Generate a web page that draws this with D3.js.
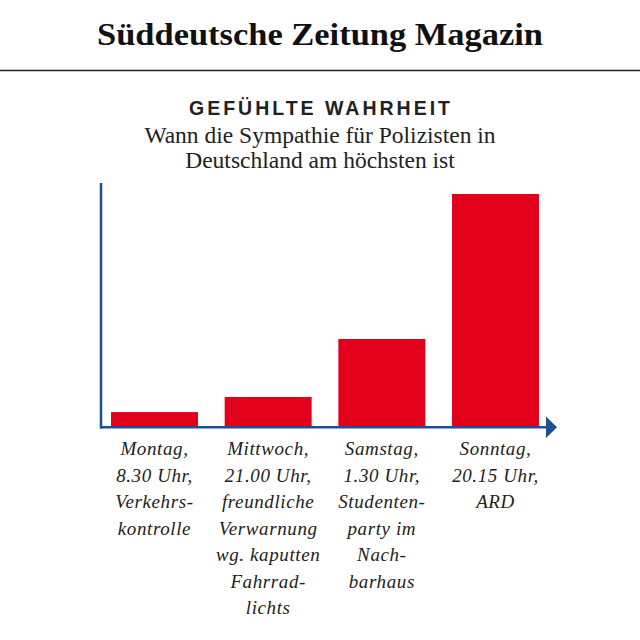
<!DOCTYPE html>
<html>
<head>
<meta charset="utf-8">
<script src="https://cdn.jsdelivr.net/npm/d3@7"></script>
<style>
  body { margin: 0; background: #fff; }
</style>
</head>
<body>
<div class="chart"></div>
<script>
// chart data
var categories = ["Montag", "Mittwoch", "Samstag", "Sonntag"];
var values = [6, 12.5, 37.5, 100];
var labels = [
  ["Montag,", "8.30 Uhr,", "Verkehrs-", "kontrolle"],
  ["Mittwoch,", "21.00 Uhr,", "freundliche", "Verwarnung", "wg. kaputten", "Fahrrad-", "lichts"],
  ["Samstag,", "1.30 Uhr,", "Studenten-", "party im", "Nach-", "barhaus"],
  ["Sonntag,", "20.15 Uhr,", "ARD"]
];

var width = 640;
var height = 640;
var red = "#e2001a";
var blue = "#1d4f91";

var svg = d3.select(".chart")
            .append("svg")
            .attr("width", width)
            .attr("height", height);

svg.append("rect")
   .attr("width", width)
   .attr("height", height)
   .attr("fill", "#fff");

// header
svg.append("text")
   .attr("x", 320)
   .attr("y", 45)
   .attr("text-anchor", "middle")
   .attr("textLength", 446)
   .attr("lengthAdjust", "spacingAndGlyphs")
   .style("font-family", "'Liberation Serif', serif")
   .style("font-weight", "bold")
   .style("font-size", "32px")
   .style("fill", "#111")
   .text("Süddeutsche Zeitung Magazin");

svg.append("line")
   .attr("x1", 0).attr("x2", width)
   .attr("y1", 70.5).attr("y2", 70.5)
   .attr("stroke", "#222")
   .attr("stroke-width", 1.5);

svg.append("text")
   .attr("x", 321)
   .attr("y", 115)
   .attr("text-anchor", "middle")
   .style("font-family", "'Liberation Sans', sans-serif")
   .style("font-weight", "bold")
   .style("font-size", "19.5px")
   .style("letter-spacing", "3px")
   .style("fill", "#222")
   .text("GEFÜHLTE WAHRHEIT");

var subtitle = ["Wann die Sympathie für Polizisten in", "Deutschland am höchsten ist"];
svg.selectAll(".subtitle")
   .data(subtitle)
   .enter()
   .append("text")
   .attr("class", "subtitle")
   .attr("x", 320)
   .attr("y", (d, i) => 143 + i * 25)
   .attr("text-anchor", "middle")
   .style("font-family", "'Liberation Serif', serif")
   .style("font-size", "23.5px")
   .style("fill", "#222")
   .text(d => d);

// scales
var xScale = d3.scaleBand()
               .domain(categories)
               .range([111, 539])
               .paddingInner(0.235)
               .paddingOuter(0);

var yScale = d3.scaleLinear()
               .domain([0, 100])
               .range([426, 194]);

// bars
svg.selectAll(".bar")
   .data(values)
   .enter()
   .append("rect")
   .attr("class", "bar")
   .attr("x", (d, i) => xScale(categories[i]))
   .attr("y", d => yScale(d))
   .attr("width", xScale.bandwidth())
   .attr("height", d => yScale(0) - yScale(d))
   .attr("fill", red);

// axes
svg.append("line")
   .attr("x1", 101).attr("x2", 101)
   .attr("y1", 183).attr("y2", 428.5)
   .attr("stroke", blue)
   .attr("stroke-width", 2.5);

svg.append("line")
   .attr("x1", 100).attr("x2", 548)
   .attr("y1", 427.3).attr("y2", 427.3)
   .attr("stroke", blue)
   .attr("stroke-width", 2.5);

svg.append("path")
   .attr("d", "M546,416.5 L557,427.3 L546,438 Z")
   .attr("fill", blue);

// category labels
var groups = svg.selectAll(".label")
   .data(labels)
   .enter()
   .append("text")
   .attr("class", "label")
   .attr("text-anchor", "middle")
   .style("font-family", "'Liberation Serif', serif")
   .style("font-style", "italic")
   .style("font-size", "19px")
   .style("letter-spacing", "0.6px")
   .style("fill", "#222");

groups.selectAll("tspan")
   .data((d, i) => d.map(t => ({t: t, i: i})))
   .enter()
   .append("tspan")
   .attr("x", d => xScale(categories[d.i]) + xScale.bandwidth() / 2)
   .attr("y", (d, j) => 455 + j * 26.5)
   .text(d => d.t);
</script>
</body>
</html>
